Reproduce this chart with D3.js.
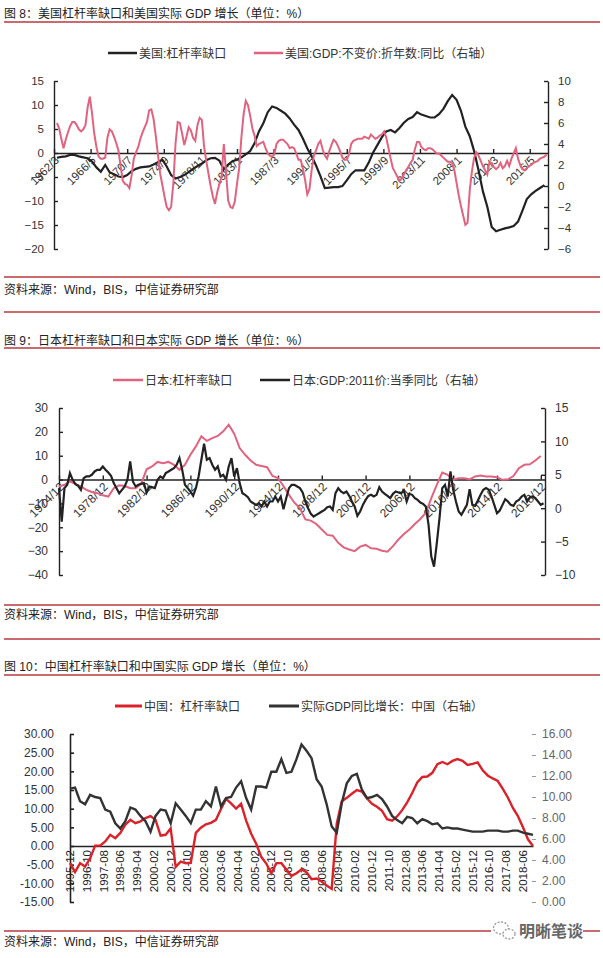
<!DOCTYPE html>
<html><head><meta charset="utf-8">
<script src="https://cdn.jsdelivr.net/npm/d3@7"></script>
<style>
body{margin:0;background:#fff;}
svg{display:block;font-family:"Liberation Sans","Noto Sans CJK SC",sans-serif;}
</style></head><body>
<svg id="c" width="603" height="958"></svg>
<script>
// ---------------- DATA ----------------
// Chart 1 (US): leverage gap, semi-annual from 1962.5 (left axis)
const usGapStart = 1962.5, usGapStep = 0.5;
const usGap = [-1.0,
 -0.8,-0.7, -0.4,-0.4, -0.7,-0.9, -1.1,-1.8, -3.0,-3.9, -2.5,-4.0, -4.4,-4.9,
 -5.0,-4.6, -3.8,-3.3, -3.0,-2.9, -2.8,-2.4, -1.9,-1.4, -2.8,-4.6, -5.3,-5.0, -4.6,-4.0, -3.3,-2.7, -2.2,-1.5,
 -1.1,-1.0, -1.6,-3.4, -2.4,-1.7, -1.4,-0.9, -0.3,0.4, 2.0,4.5, 6.2,8.5, 9.7,9.4, 8.8,8.2, 7.2,5.9,
 4.8,3.0, 1.0,-0.7, -2.6,-4.8, -7.3,-7.2, -7.1,-7.1, -6.9,-5.7, -4.4,-3.6, -3.6,-3.6, -2.0,0.1, 1.7,3.3,
 4.5,4.8, 4.3,5.2, 6.3,7.1, 7.5,8.5, 8.0,7.7, 7.4,7.4, 8.1,9.2, 10.8,12.1, 11.1,8.8, 5.5,3.5,
 0.4,-3.6, -8.0,-11.2, -15.4,-16.3, -16.0,-15.7, -15.5,-15.2, -14.3,-12.0, -9.6,-8.6, -7.9,-7.3, -6.7];
// Chart 1 (US): real GDP yoy, quarterly from 1962.5 (right axis)
const usGdpStart = 1962.5, usGdpStep = 0.25;
const usGdp = [6.0,5.5,
 4.5,3.6,4.4,5.1, 5.7,6.1,6.1,5.8, 5.4,5.2,5.4,5.8, 7.5,8.5,6.9,5.0, 3.7,2.8,2.6,2.6,
 2.7,4.6,5.4,5.2, 4.7,4.1,3.4,1.9, 0.5,0.2,0.1,-0.2, 1.0,2.6,3.2,3.7, 4.5,5.1,5.6,6.1,
 7.2,7.3,6.4,4.8, 3.0,1.2,0.1,-1.0, -2.0,-2.3,-2.0,0.2, 4.0,6.1,6.0,5.0, 3.9,4.7,5.6,5.3,
 4.6,4.3,5.8,6.5, 6.3,3.8,2.4,1.2, 0.0,-1.0,-1.7,-0.6, 0.2,0.9,4.0,1.4, -1.4,-2.0,-2.1,-1.5,
 0.2,1.7,4.6,6.8, 8.1,7.7,6.7,5.5, 4.8,3.8,4.0,4.1, 4.2,3.6,3.1,2.9, 2.8,3.0,4.0,4.3,
 4.4,4.4,4.2,4.0, 3.6,3.7,3.6,3.1, 2.5,2.5,1.7,0.6, -0.8,-0.3,1.5,2.9, 3.4,4.0,4.3,3.5,
 2.9,2.6,3.3,3.9, 4.4,4.2,3.8,3.3, 2.7,2.5,2.5,3.0, 4.0,4.3,4.4,4.5, 4.5,4.5,4.7,4.6,
 4.5,4.9,4.7,4.5, 4.6,4.8,4.9,5.2, 4.6,3.6,2.6,1.7, 1.3,0.9,0.5,0.7, 1.1,1.5,1.8,2.2,
 2.5,3.5,4.2,4.2, 3.7,3.5,3.4,3.6, 3.6,3.5,3.3,3.1, 3.1,2.9,2.7,2.5, 2.3,2.3,2.2,1.5,
 0.3,-0.9,-1.9,-2.8, -3.7,-3.5,-0.4,1.4, 2.7,3.2,2.9,2.4, 1.9,1.5,1.1,2.3, 2.2,1.8,1.6,1.8,
 2.2,1.7,1.9,2.4, 1.9,2.6,3.1,3.6, 2.6,2.0,1.6,1.5, 1.7,1.9,2.0,2.2, 2.3,2.4,2.6,2.7,
 2.8,3.0];
const usLabels = ["1962/3","1966/5","1970/7","1974/9","1978/11","1983/1","1987/3","1991/5","1995/7","1999/9","2003/11","2008/1","2012/3","2016/5"];
const usLeftTicks = [-20,-15,-10,-5,0,5,10,15];
const usRightTicks = [-6,-4,-2,0,2,4,6,8,10];

// Chart 2 (Japan): leverage gap, semi-annual from 1974/12 (left axis)
const jpGapStart = 1974.917, jpGapStep = 0.5;
const jpGap = [-2.9,-2.2,-0.8,-1.8,-2.9,-4.3,-5.2,-5.7,-6.6,-7.1,
 -3.6,-2.4,-2.7,-3.6,-3.6,-1.8,4.3,5.5,7.4,6.9,
 7.4,6.2,4.1,6.2,10.4,13.9,18.1,16.2,17.4,18.3,
 20.2,23.0,19.2,13.2,10.4,8.0,6.2,5.7,5.2,1.5,
 0.6,-2.7,-6.4,-9.7,-12.0,-16.7,-17.2,-18.6,-20.9,-23.2,
 -23.5,-26.5,-28.4,-29.3,-30.0,-28.1,-27.4,-28.8,-29.0,-29.8,
 -30.2,-27.9,-25.1,-22.8,-20.9,-18.6,-16.5,-13.9,-7.8,-2.2,
 2.9,2.0,-0.1,0.6,0.6,0.1,1.3,1.7,1.3,1.3,
 1.0,-0.1,0.1,1.5,4.8,6.2,6.4,8.0,9.9];
// Chart 2 (Japan): real GDP yoy, quarterly from 1974/12 (right axis)
const jpGdpStart = 1974.917, jpGdpStep = 0.25;
const jpGdp = [3.0,-2.0,3.0,3.5,5.25,4.25,3.6,3.35,2.75,4.5,
 4.75,4.75,5.0,5.5,5.75,5.75,6.25,5.75,5.35,4.85,
 3.75,3.0,2.25,2.75,3.25,4.25,7.0,4.0,3.25,3.5,
 3.65,3.75,2.35,3.25,3.15,3.0,4.25,4.75,4.5,5.25,
 5.5,5.75,6.0,6.5,7.5,5.75,3.5,3.0,2.5,1.85,
 3.0,4.75,7.25,9.65,7.25,7.5,6.5,5.75,6.25,4.75,
 5.0,4.25,6.25,7.5,4.75,6.0,3.75,2.25,2.0,1.65,
 1.0,0.75,0.5,0.75,0.25,1.0,0.25,1.0,1.0,1.75,
 1.0,1.75,-0.15,1.5,3.0,3.5,3.5,3.25,3.0,2.35,
 1.0,0.0,-0.85,-1.25,-1.0,-0.75,-0.5,-0.25,0.15,0.25,
 -0.25,2.25,3.0,2.5,2.25,2.5,1.85,1.0,0.25,-1.15,
 -0.5,0.5,1.25,1.85,2.0,1.75,2.0,3.15,2.5,2.15,
 1.85,1.5,2.15,2.5,2.35,2.25,2.65,1.0,2.15,2.0,
 1.5,1.25,0.85,0.65,0.25,-2.5,-7.25,-8.75,-5.25,-1.5,
 3.0,3.5,1.75,5.5,2.75,1.0,-0.5,-1.0,-0.25,0.5,
 2.85,0.5,0.35,1.15,2.0,2.75,3.0,2.75,1.75,0.5,
 -0.75,-0.35,0.5,1.35,1.0,0.5,0.35,1.0,1.25,1.75,
 2.0,1.0,1.65,1.75,1.5,1.0,0.5,0.75];
const jpLabels = ["1974/12","1978/12","1982/12","1986/12","1990/12","1994/12","1998/12","2002/12","2006/12","2010/12","2014/12","2018/12"];
const jpLeftTicks = [-40,-30,-20,-10,0,10,20,30];
const jpRightTicks = [-10,-5,0,5,10,15];

// Chart 3 (China): quarterly from 1995-12 (month index step 3)
const cnStep = 3;
const cnGap = [-4.6,-7.0,-4.6,-5.5,-3.3,0.1,0.1,1.2,3.0,2.1,
 3.5,5.7,7.0,6.1,6.6,7.5,8.0,7.0,2.8,3.0,
 4.7,-5.6,-4.2,-4.6,-4.5,3.5,4.9,5.8,6.2,7.0,
 9.9,12.6,11.4,10.0,11.3,6.8,3.3,0.6,-2.9,-4.7,
 -7.3,-4.6,-4.6,-6.3,-8.0,-7.3,-6.3,-7.0,-8.9,-8.7,
 -9.5,-10.6,-11.5,6.0,12.0,12.9,14.0,15.0,14.6,12.8,
 11.3,10.5,9.4,7.2,6.8,7.9,9.6,11.7,14.2,17.0,
 18.5,18.6,19.6,21.9,22.5,21.9,22.8,23.3,22.8,21.7,
 22.0,22.4,20.3,18.9,18.1,17.4,15.3,13.0,10.2,8.0,
 5.0,1.8,0.0];
const cnGdp = [10.8,10.9,9.6,9.3,10.2,10.0,9.9,8.8,8.6,7.5,
 7.0,7.7,9.0,8.8,8.2,7.7,6.7,8.2,8.8,8.7,
 7.5,9.4,8.8,8.2,7.5,8.8,8.8,9.6,9.1,11.0,
 9.1,9.9,10.0,10.9,11.5,9.9,8.8,11.0,11.0,10.9,
 12.4,12.4,13.6,12.3,12.4,13.6,15.0,14.4,13.7,11.7,
 11.0,9.3,7.2,6.6,9.4,11.3,12.0,12.2,10.7,9.9,
 10.0,10.2,9.8,9.1,8.2,7.8,7.5,8.1,8.0,7.5,
 7.9,7.7,7.4,7.5,7.0,7.1,7.0,7.0,6.9,6.8,
 6.7,6.7,6.7,6.8,6.8,6.8,6.7,6.7,6.8,6.8,
 6.6,6.5,6.4];
const cnLabels = ["1995-12","1996-10","1997-08","1998-06","1999-04","2000-02","2000-12","2001-10","2002-08","2003-06","2004-04","2005-02","2005-12","2006-10","2007-08","2008-06","2009-04","2010-02","2010-12","2011-10","2012-08","2013-06","2014-04","2015-02","2015-12","2016-10","2017-08","2018-06"];
const cnLeftTicks = [-15,-10,-5,0,5,10,15,20,25,30];
const cnRightTicks = [0,2,4,6,8,10,12,14,16];

// ---------------- DRAW ----------------
const svg = d3.select("#c");
const RED = "#b8393f";
const TXT = "#222";
svg.append("rect").attr("width",603).attr("height",958).attr("fill","#fff");

function sep(y){ svg.append("line").attr("x1",4).attr("x2",600).attr("y1",y).attr("y2",y).attr("stroke",RED).attr("stroke-width",1.3); }
function txt(x,y,s,size,fill,anchor){ return svg.append("text").attr("x",x).attr("y",y).attr("font-size",size).attr("fill",fill||TXT).attr("text-anchor",anchor||"start").text(s); }
function legendItem(x1,x2,y,color,w,label){
  svg.append("line").attr("x1",x1).attr("x2",x2).attr("y1",y).attr("y2",y).attr("stroke",color).attr("stroke-width",w);
  txt(x2+2,y+4.5,label,12,"#333");
}

// titles / separators / sources
txt(4,18,"图 8：美国杠杆率缺口和美国实际 GDP 增长（单位：%）",12);
sep(22);
sep(277); txt(4,294,"资料来源：Wind，BIS，中信证券研究部",12); sep(312);
txt(4,345,"图 9：日本杠杆率缺口和日本实际 GDP 增长（单位：%）",12);
sep(348);
sep(605); txt(4,619,"资料来源：Wind，BIS，中信证券研究部",12); sep(639);
txt(4,671,"图 10：中国杠杆率缺口和中国实际 GDP 增长（单位：%）",12);
sep(675);
sep(931); txt(4,946,"资料来源：Wind，BIS，中信证券研究部",12);

function lineFrom(x, y, start, step){
  return d3.line().x((d,i)=>x(start+i*step)).y(d=>y(d));
}

// ===== Chart 1 =====
(function(){
  const PINK = "#e0637f", BLK = "#222";
  legendItem(108,137,53,BLK,2.5,"美国:杠杆率缺口");
  legendItem(254,283,53,PINK,2.5,"美国:GDP:不变价:折年数:同比（右轴）");
  const x = d3.scaleLinear([1962.167, 2018.41],[54,548]);
  const yL = d3.scaleLinear([-20,15],[249,81]);
  const yR = d3.scaleLinear([-6,10],[249,81]);
  const g = svg.append("g").attr("font-size",11.5);
  const la = g.append("g").attr("transform","translate(54,0)")
    .call(d3.axisLeft(yL).tickValues(usLeftTicks).tickSizeInner(-4).tickSizeOuter(0).tickPadding(10));
  const ra = g.append("g").attr("transform","translate(548,0)")
    .call(d3.axisRight(yR).tickValues(usRightTicks).tickSizeInner(-4).tickSizeOuter(0).tickPadding(10));
  [la,ra].forEach(a=>{a.selectAll("text").attr("fill","#333").attr("font-family",null).attr("font-size",11.5);
    a.selectAll("path,line").attr("stroke","#222").attr("stroke-width",1.4); a.attr("font-family",null);});
  const tv = usLabels.map(s=>{const p=s.split("/"); return +p[0]+(+p[1]-1)/12;});
  const y0 = yL(0);
  g.selectAll(".xl").data(usLabels).join("text")
    .attr("transform",(d,i)=>`translate(${x(tv[i])+3},${y0+5}) rotate(-45)`)
    .attr("text-anchor","end").attr("dy","0.35em").attr("font-size",11.5).attr("fill","#333").text(d=>d);
  const xa = g.append("g").attr("transform",`translate(0,${y0})`)
    .call(d3.axisBottom(x).tickValues(tv).tickSizeInner(-4).tickSizeOuter(0).tickFormat(""));
  xa.selectAll("path,line").attr("stroke","#222").attr("stroke-width",1.4);
  g.append("path").datum(usGap).attr("fill","none").attr("stroke",BLK).attr("stroke-width",2.2)
    .attr("d",lineFrom(x,yL,usGapStart,usGapStep));
  g.append("path").datum(usGdp).attr("fill","none").attr("stroke",PINK).attr("stroke-width",2)
    .attr("d",lineFrom(x,yR,usGdpStart,usGdpStep));
})();

// ===== Chart 2 =====
(function(){
  const PINK = "#e0637f", BLK = "#222";
  legendItem(113,143,380,PINK,2.5,"日本:杠杆率缺口");
  legendItem(260,290,380,BLK,2.5,"日本:GDP:2011价:当季同比（右轴）");
  const x = d3.scaleLinear([1974.917, 2019.3],[59,545]);
  const yL = d3.scaleLinear([-40,30],[575,408]);
  const yR = d3.scaleLinear([-10,15],[575,408]);
  const g = svg.append("g");
  const la = g.append("g").attr("transform","translate(59,0)")
    .call(d3.axisLeft(yL).tickValues(jpLeftTicks).tickSizeInner(-4).tickSizeOuter(0).tickPadding(11));
  const ra = g.append("g").attr("transform","translate(545,0)")
    .call(d3.axisRight(yR).tickValues(jpRightTicks).tickSizeInner(-4).tickSizeOuter(0).tickPadding(10));
  [la,ra].forEach(a=>{a.attr("font-family",null); a.selectAll("text").attr("fill","#333").attr("font-size",12);
    a.selectAll("path,line").attr("stroke","#222").attr("stroke-width",1.4);});
  const tv = jpLabels.map(s=>{const p=s.split("/"); return +p[0]+(+p[1]-1)/12;});
  const y0 = yL(0);
  g.selectAll(".xl").data(jpLabels).join("text")
    .attr("transform",(d,i)=>`translate(${x(tv[i])+3},${y0+5}) rotate(-45)`)
    .attr("text-anchor","end").attr("dy","0.35em").attr("font-size",12).attr("fill","#333").text(d=>d);
  const xa = g.append("g").attr("transform",`translate(0,${y0})`)
    .call(d3.axisBottom(x).tickValues(tv).tickSizeInner(-4).tickSizeOuter(0).tickFormat(""));
  xa.selectAll("path,line").attr("stroke","#222").attr("stroke-width",1.4);
  g.append("path").datum(jpGap).attr("fill","none").attr("stroke",PINK).attr("stroke-width",2)
    .attr("d",lineFrom(x,yL,jpGapStart,jpGapStep));
  g.append("path").datum(jpGdp).attr("fill","none").attr("stroke",BLK).attr("stroke-width",2.2)
    .attr("d",lineFrom(x,yR,jpGdpStart,jpGdpStep));
})();

// ===== Chart 3 =====
(function(){
  const RD = "#d9222a", BLK = "#333";
  legendItem(115,142,706,RD,3,"中国：杠杆率缺口");
  legendItem(269,299,706,BLK,3,"实际GDP同比增长：中国（右轴）");
  const x = d3.scaleLinear([0,276],[70,533]);
  const yL = d3.scaleLinear([-15,30],[902,734]);
  const yR = d3.scaleLinear([0,16],[902,734]);
  const g = svg.append("g");
  const la = g.append("g").attr("transform","translate(70,0)")
    .call(d3.axisLeft(yL).tickValues(cnLeftTicks).tickSizeInner(-4).tickSizeOuter(0).tickPadding(16).tickFormat(d=>d.toFixed(2)));
  la.attr("font-family",null); la.selectAll("text").attr("fill","#333").attr("font-size",12);
  la.selectAll("path,line").attr("stroke","#222").attr("stroke-width",1.6);
  const ra = g.append("g").attr("transform","translate(532,0)")
    .call(d3.axisRight(yR).tickValues(cnRightTicks).tickSizeInner(4).tickSizeOuter(0).tickPadding(6).tickFormat(d=>d.toFixed(2)));
  ra.attr("font-family",null); ra.select(".domain").remove();
  ra.selectAll("text").attr("fill","#666").attr("font-size",12);
  ra.selectAll("line").attr("stroke","#999");
  const y0 = yL(0);
  const tv = cnLabels.map((d,i)=>i*10);
  g.selectAll(".xl").data(cnLabels).join("text")
    .attr("transform",(d,i)=>`translate(${x(tv[i])},${y0+4}) rotate(-90)`)
    .attr("text-anchor","end").attr("dy","0.35em").attr("font-size",11.5).attr("fill","#222").text(d=>d);
  const xa = g.append("g").attr("transform",`translate(0,${y0})`)
    .call(d3.axisBottom(x).tickValues([]).tickSizeOuter(0));
  xa.selectAll("path").attr("stroke","#222").attr("stroke-width",1.6);
  g.append("path").datum(cnGap).attr("fill","none").attr("stroke",RD).attr("stroke-width",2.4)
    .attr("d",lineFrom(x,yL,0,cnStep));
  g.append("path").datum(cnGdp).attr("fill","none").attr("stroke",BLK).attr("stroke-width",2.4)
    .attr("d",lineFrom(x,yR,0,cnStep));
})();

// watermark
(function(){
  svg.append("rect").attr("x",491).attr("y",920).attr("width",92).attr("height",21).attr("fill","#fff");
  const w = svg.append("g").attr("fill","none").attr("stroke","#999").attr("stroke-width",1.3).attr("stroke-dasharray","2 1.5");
  w.append("ellipse").attr("cx",501).attr("cy",928).attr("rx",7.5).attr("ry",6);
  w.append("ellipse").attr("cx",509).attr("cy",934).attr("rx",6).attr("ry",5).attr("fill","#fff");
  txt(519,937,"明晰笔谈",16,"#666").attr("font-weight","bold");
})();
</script>
</body></html>
